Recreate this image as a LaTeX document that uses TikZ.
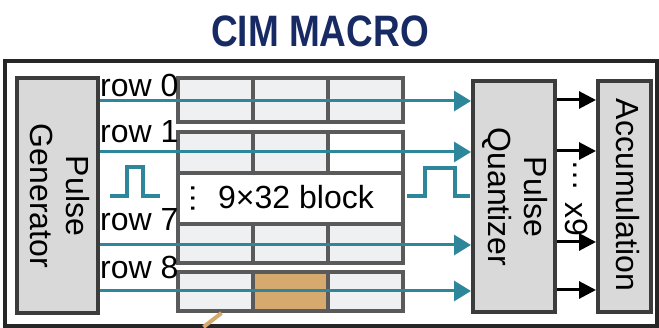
\documentclass[tikz,border=0pt]{standalone}
\usepackage{fontspec}
\usepackage{graphicx}
\setmainfont{Liberation Sans}
\usetikzlibrary{arrows.meta}
\definecolor{macronavy}{RGB}{24,42,100}
\definecolor{pulseteal}{RGB}{46,134,154}
\definecolor{blockgray}{RGB}{217,217,217}
\definecolor{edgegray}{RGB}{60,60,60}
\definecolor{cellgray}{RGB}{239,240,242}
\definecolor{celledge}{RGB}{90,90,90}
\definecolor{weighttan}{RGB}{214,170,110}
\tikzset{
  unit/.style={draw=edgegray, fill=blockgray, line width=4pt, inner sep=0pt},
  cell/.style={draw=celledge, fill=cellgray, line width=4pt, minimum width=75pt, inner sep=0pt},
  wire/.style={pulseteal, line width=3pt, -{Triangle[length=17pt,width=20pt]}},
  outwire/.style={black, line width=3pt, -{Triangle[length=17pt,width=17pt]}},
  pulse/.style={pulseteal, line width=3.5pt},
  lbl/.style={font=\fontsize{32}{36}\selectfont, inner sep=0pt}
}
\begin{document}
\begin{tikzpicture}[x=1pt,y=-1pt]
  \useasboundingbox (0,0) rectangle (659,328);
  % title and frame
  \node[font=\fontsize{44}{44}\selectfont\bfseries, text=macronavy, inner sep=0pt] (title) at (320,31) {\scalebox{0.84}[1]{CIM MACRO}};
  \draw[line width=4pt, draw=black!85] (5,61) rectangle (657,326);
  % side units
  \node[unit, minimum width=81pt, minimum height=235pt] (gen) at (57.5,195.5) {};
  \node[unit, minimum width=82pt, minimum height=231pt] (quant) at (514,196.5) {};
  \node[unit, minimum width=53pt, minimum height=231pt] (acc) at (624.5,196.5) {};
  \node[lbl, rotate=-90, align=center] (gentext) at (60,196) {Pulse\\Generator};
  \node[lbl, rotate=-90, align=center] (quanttext) at (515,197) {Pulse\\Quantizer};
  \node[lbl, rotate=-90] (acctext) at (628,195) {Accumulation};
  % array rows
  \foreach \r/\y/\h/\mid/\last in {0/100/44pt/cellgray/cellgray, 1/152.5/41pt/cellgray/white,
      7/243.5/39pt/cellgray/cellgray, 8/291.5/39pt/weighttan/cellgray}{
    \node[cell, minimum height=\h] (c\r0) at (215.5,\y) {};
    \node[cell, minimum height=\h, fill=\mid] (c\r1) at (290.5,\y) {};
    \node[cell, minimum height=\h, fill=\last] (c\r2) at (365.5,\y) {};
  }
  \node[cell, fill=white, minimum width=225pt, minimum height=51pt] (blk) at (290.5,198.5) {};
  \node[lbl, anchor=base west] (blktext) at (218,209) {9×32 block};
  \node[lbl, rotate=-90, anchor=base] (blkdots) at (191,198.5) {…};
  \draw[weighttan, line width=4pt] ([xshift=6pt]c80.south) -- ++(-18,14);
  % row labels
  \foreach \r/\y in {0/97,1/143,7/231,8/279}
    \node[lbl, anchor=base west] (row\r) at (100,\y) {row \r};
  % wires
  \foreach \y in {101,152,245,291}
    \draw[wire] (gen.east |- 0,\y) -- (quant.west |- 0,\y);
  \foreach \y in {100,151,242,290}
    \draw[outwire] (quant.east |- 0,\y) -- (acc.west |- 0,\y);
  \node[lbl, rotate=-90, anchor=base] (outdots) at (573,176) {…};
  \node[lbl, rotate=-90] (outcount) at (577,219) {x9};
  % pulses
  \draw[pulse] (110,196) -- (127,196) -- (127,167) -- (143,167) -- (143,196) -- (160,196);
  \draw[pulse] (407,196) -- (425,196) -- (425,168) -- (455,168) -- (455,196) -- (470,196);
\end{tikzpicture}
\end{document}
